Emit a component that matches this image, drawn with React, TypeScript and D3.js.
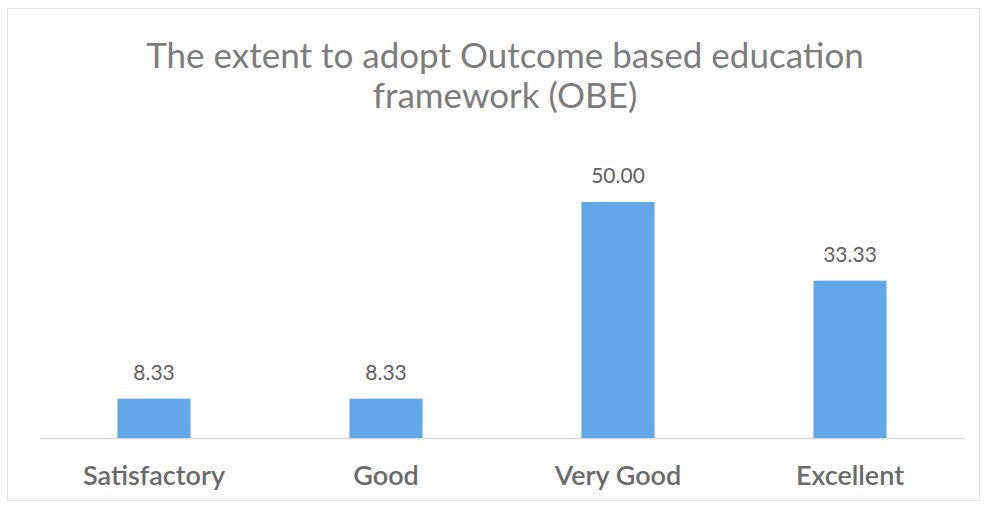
import React from "react";
import * as d3 from "d3";

const categories = ["Satisfactory", "Good", "Very Good", "Excellent"];
const values = [8.33, 8.33, 50.0, 33.33];
const titleLines = ["The extent to adopt Outcome based education", "framework (OBE)"];

const W = 984;
const H = 508;
const baseline = 438;
const pxPerUnit = 4.72;

export default function App() {
  const x = d3.scaleBand<string>().domain(categories).range([38, 966]).paddingInner(0.685).paddingOuter(0.3425);
  const y = d3.scaleLinear().domain([0, 50]).range([baseline, baseline - 50 * pxPerUnit]);
  const font = "Lato, 'Open Sans', sans-serif";
  return (
    <svg width={W} height={H} style={{ position: "absolute", left: 0, top: 0, background: "#fff" }}>
      <rect x={7.5} y={8.5} width={972} height={492} fill="#fff" stroke="#e4e4e4" strokeWidth={1} />
      {titleLines.map((t, i) => (
        <text key={i} x={505} y={68 + i * 40} textAnchor="middle" fontFamily={font} fontSize={35} fill="#7c7c7c">
          {t}
        </text>
      ))}
      <line x1={40} x2={965} y1={baseline + 0.5} y2={baseline + 0.5} stroke="#d9d9d9" strokeWidth={1.5} />
      {categories.map((c, i) => {
        const bx = x(c)!;
        const bw = x.bandwidth();
        const top = y(values[i]);
        return (
          <g key={c}>
            <rect x={bx} y={top} width={bw} height={baseline - top} fill="#62a7e8" />
            <text x={bx + bw / 2} y={top - 19} textAnchor="middle" fontFamily={font} fontSize={21} fill="#606060">
              {values[i].toFixed(2)}
            </text>
            <text x={bx + bw / 2} y={485} textAnchor="middle" fontFamily={font} fontSize={27} fontWeight={600} fill="#6a6a6a">
              {c}
            </text>
          </g>
        );
      })}
    </svg>
  );
}
